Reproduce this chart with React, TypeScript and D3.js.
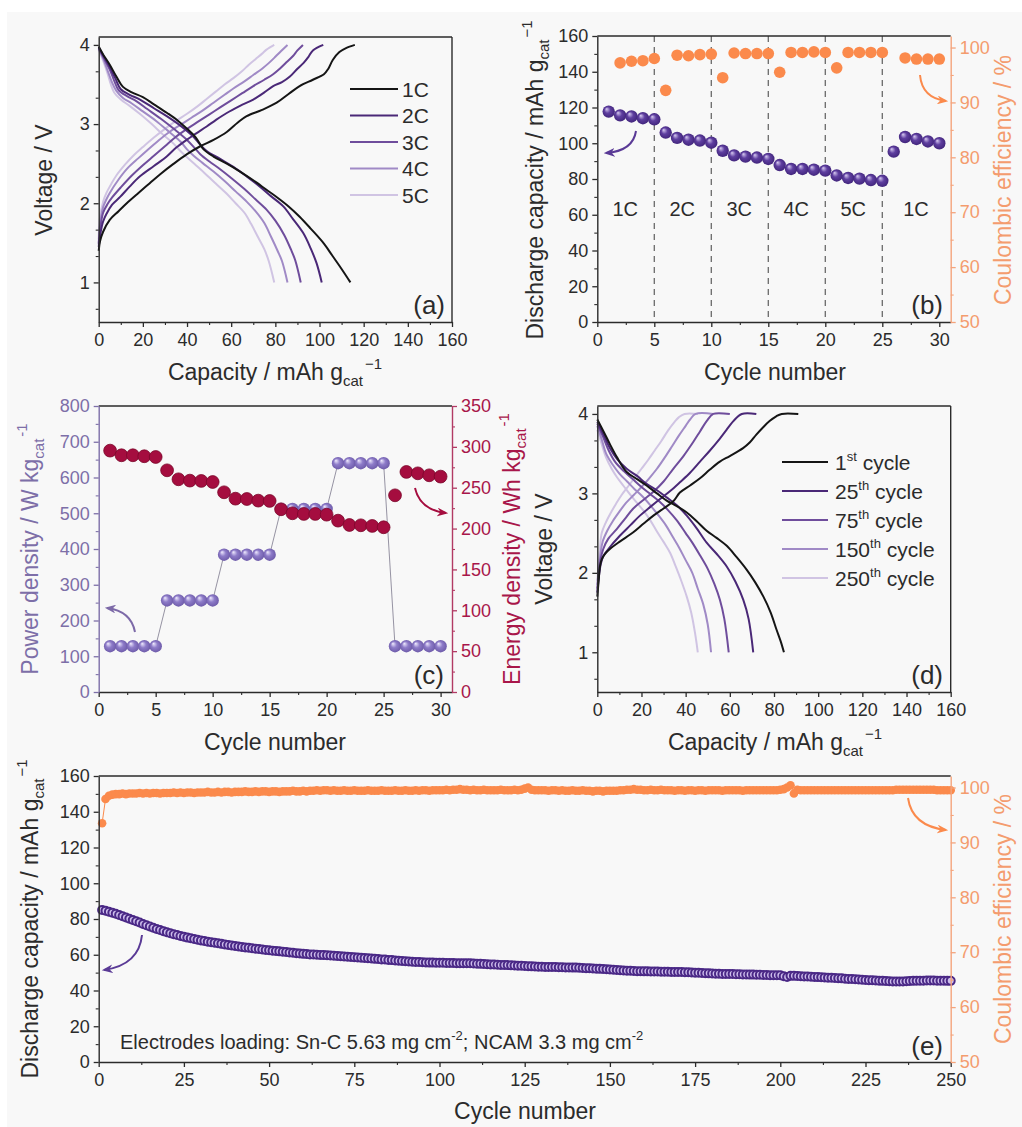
import React, { useEffect, useRef } from 'react';
import * as d3 from 'd3';

const FONT = "'Liberation Sans', Arial, Helvetica, sans-serif";
const INK = '#2b2b2b';
const ORANGE = '#fb8a4c';
const ORANGE_AXIS = '#f4a47c';
const ORANGE_TEXT = '#f49c6e';
const WINE = '#a50d3f';
const WINE_AXIS = '#b23a64';
const WINE_TEXT = '#a8164a';
const LILAC_AXIS = '#7d6fa8';

type Pt = [number, number];

// ---------- (a) voltage profiles at different C-rates ----------
const rateLabels = ['1C', '2C', '3C', '4C', '5C'];
const profileColors = ['#151515', '#4a2877', '#6f4d9c', '#a08ac6', '#d0c4e3'];

const charge1C: Pt[] = [[0,1.40],[0.6,1.52],[2,1.64],[5,1.79],[9,1.9],[12.7,2.0],[18,2.13],[23,2.25],[28,2.37],[34,2.5],[40,2.62],[46,2.72],[52,2.8],[58,2.9],[63,3.02],[67,3.1],[74,3.18],[80.6,3.27],[86,3.38],[91,3.48],[97,3.56],[102,3.63],[104,3.7],[106,3.81],[109,3.91],[112,3.96],[116,4.0]];
const discharge1C: Pt[] = [[0,3.98],[2,3.88],[5,3.75],[8,3.6],[11,3.47],[15,3.4],[20,3.34],[25,3.25],[31,3.14],[36,3.04],[40,2.94],[44,2.83],[47.5,2.68],[52,2.59],[58,2.5],[64,2.4],[70,2.29],[76,2.17],[81,2.07],[86,1.96],[91,1.83],[96,1.68],[102,1.49],[106,1.33],[110,1.17],[114,1.0]];
const charge2C: Pt[] = [[0,1.45],[0.8,1.62],[2,1.77],[3.6,1.87],[6,1.98],[9.7,2.08],[14,2.21],[18.7,2.34],[25,2.47],[30.8,2.59],[35,2.7],[39.8,2.8],[44,2.88],[48.9,2.97],[53,3.05],[58,3.14],[64,3.23],[70,3.31],[75,3.4],[79,3.48],[83,3.53],[86.6,3.6],[90,3.7],[92.7,3.77],[95,3.85],[97,3.93],[101.7,4.0]];
const discharge2C: Pt[] = [[0,3.97],[2,3.87],[5,3.72],[7.5,3.58],[10,3.44],[14,3.37],[18.7,3.31],[25,3.2],[30.8,3.1],[37,2.98],[42.9,2.84],[46,2.74],[48.9,2.66],[55,2.56],[61,2.46],[67,2.34],[73,2.21],[78,2.09],[83.6,1.96],[88,1.8],[92.7,1.62],[96,1.43],[98.7,1.24],[101,1.0]];
const charge3C: Pt[] = [[0,1.48],[0.8,1.7],[2,1.88],[4,1.99],[6,2.07],[10,2.2],[15,2.35],[20,2.48],[25,2.6],[30,2.72],[35,2.84],[40,2.94],[45,3.03],[50,3.12],[55,3.21],[60,3.3],[65,3.39],[70,3.48],[75,3.56],[79,3.63],[82,3.7],[85,3.78],[88,3.86],[90,3.93],[92.5,4.0]];
const discharge3C: Pt[] = [[0,3.96],[2,3.85],[5,3.69],[7,3.55],[9,3.43],[13,3.35],[17,3.29],[22,3.19],[28,3.07],[34,2.94],[40,2.8],[44,2.68],[46,2.62],[50,2.53],[55,2.43],[60,2.32],[66,2.18],[71,2.05],[76,1.92],[80,1.78],[84,1.6],[87,1.42],[89,1.28],[91.5,1.0]];
const charge4C: Pt[] = [[0,1.5],[0.7,1.75],[2,1.95],[3.5,2.05],[5,2.13],[9,2.3],[13,2.44],[18,2.57],[22,2.67],[27,2.79],[32,2.9],[37,2.99],[42,3.08],[47,3.17],[52,3.27],[57,3.37],[61,3.45],[66,3.54],[70,3.62],[74,3.7],[77,3.77],[80,3.85],[82.5,3.92],[85.5,4.0]];
const discharge4C: Pt[] = [[0,3.95],[2,3.83],[4,3.68],[6,3.53],[8,3.42],[11,3.33],[15,3.26],[20,3.16],[26,3.04],[32,2.9],[37,2.78],[40,2.68],[43,2.6],[47,2.51],[52,2.4],[57,2.28],[62,2.15],[67,2.02],[71,1.9],[75,1.75],[78,1.58],[81,1.4],[83,1.27],[85.5,1.0]];
const charge5C: Pt[] = [[0,1.55],[0.6,1.82],[2,2.02],[3.5,2.13],[5,2.21],[8,2.35],[12,2.49],[16,2.61],[20,2.71],[25,2.83],[30,2.94],[35,3.04],[40,3.13],[45,3.23],[49,3.32],[53,3.41],[57,3.5],[61,3.58],[65,3.67],[68,3.75],[71,3.82],[74,3.89],[76,3.94],[79.5,4.0]];
const discharge5C: Pt[] = [[0,3.94],[2,3.8],[4,3.64],[5.5,3.5],[7,3.4],[10,3.31],[14,3.23],[19,3.12],[24,3.0],[29,2.87],[34,2.75],[37,2.66],[40,2.58],[44,2.48],[48,2.38],[53,2.25],[58,2.12],[62,2.0],[66,1.88],[69,1.74],[72,1.58],[75,1.42],[77,1.27],[79.5,1.0]];
const rateCharge = [charge1C, charge2C, charge3C, charge4C, charge5C];
const rateDischarge = [discharge1C, discharge2C, discharge3C, discharge4C, discharge5C];

// ---------- (b) rate capability ----------
const cycles30 = [1,2,3,4,5,6,7,8,9,10,11,12,13,14,15,16,17,18,19,20,21,22,23,24,25,26,27,28,29,30];
const rateCapacity = [117.7,115.6,115.0,114.0,113.4,106.0,103.0,102.0,101.5,100.3,95.8,93.2,92.5,92.0,91.2,87.8,85.6,85.6,85.2,84.7,82.0,80.6,80.2,79.4,79.0,95.3,103.5,102.4,101.0,100.0];
const rateCE: (number | null)[] = [null,97.2,97.5,97.6,98.0,92.2,98.6,98.5,98.7,98.8,94.5,99.0,98.9,98.9,98.9,95.5,99.1,99.1,99.2,99.1,96.3,99.1,99.1,99.1,99.1,null,98.1,97.9,97.9,97.9];
const stepBounds = [0, 5, 10, 15, 20, 25, 31];
const stepLabels = ['1C', '2C', '3C', '4C', '5C', '1C'];

// ---------- (c) power / energy density ----------
const powerDensity = [128,128,128,128,128,256,256,256,256,256,384,384,384,384,384,512,512,512,512,512,640,640,640,640,640,128,128,128,128,128];
const energyDensity = [295.4,289.7,289.7,288.5,287.6,271.3,260.3,258.7,258.3,257.0,244.4,236.6,236.2,234.2,233.8,223.6,218.7,217.9,217.9,217.0,209.7,204.4,204.0,203.2,201.6,240.7,269.3,267.6,265.2,263.6];

// ---------- (d) voltage profiles upon cycling ----------
const cycleProfileLabels = ['1', '25', '75', '150', '250'];
const cycleProfileSuffix = ['st', 'th', 'th', 'th', 'th'];
const charge1st: Pt[] = [[0,1.7],[0.6,1.9],[1.2,2.08],[2,2.17],[3.5,2.24],[5.7,2.3],[10,2.39],[16.3,2.51],[21,2.62],[25.4,2.72],[30,2.81],[34.4,2.9],[37.4,3.01],[42,3.1],[46.5,3.19],[51,3.3],[55.5,3.4],[60,3.47],[66,3.57],[69,3.64],[72,3.74],[75,3.83],[78,3.91],[81,3.97],[83.5,4.0],[91,4.0]];
const discharge1st: Pt[] = [[0,3.93],[3,3.77],[5.7,3.62],[9,3.45],[13.3,3.27],[18,3.18],[22.3,3.1],[27,3.0],[31.4,2.91],[36,2.84],[40.5,2.76],[45,2.65],[49.5,2.53],[54,2.44],[58.6,2.34],[63,2.2],[67.6,2.04],[71.5,1.88],[75.2,1.7],[78.5,1.5],[81.2,1.28],[83,1.14],[84.5,1.0]];
const charge25th: Pt[] = [[0,1.75],[0.6,1.92],[1.5,2.1],[2.7,2.21],[5,2.3],[10.3,2.47],[15,2.6],[19.3,2.72],[24,2.83],[28.4,2.93],[33,3.03],[37.4,3.14],[42,3.26],[46.5,3.4],[51,3.54],[55.5,3.69],[58.5,3.8],[61.6,3.91],[65.4,4.0],[72,4.0]];
const discharge25th: Pt[] = [[0,3.9],[3,3.73],[5.7,3.57],[9,3.43],[13.3,3.31],[18,3.22],[22.3,3.12],[27,3.04],[31.4,2.95],[36,2.85],[40.5,2.72],[45,2.56],[49.5,2.38],[54,2.24],[58.6,2.08],[62.5,1.89],[66.1,1.66],[68.5,1.42],[70.6,1.0]];
const charge75th: Pt[] = [[0,1.8],[0.6,1.96],[1.5,2.17],[2.7,2.3],[5,2.43],[8.8,2.55],[12.5,2.68],[16.3,2.81],[21,2.92],[25.4,3.02],[30,3.15],[34.4,3.31],[39,3.47],[43.5,3.65],[46.5,3.78],[49.5,3.91],[52.5,4.0],[60,4.0]];
const discharge75th: Pt[] = [[0,3.88],[2.5,3.72],[5,3.55],[8,3.4],[12,3.28],[16,3.18],[20,3.08],[24,2.99],[28,2.9],[32,2.79],[36,2.66],[40,2.5],[43,2.38],[46.5,2.22],[50,2.05],[53,1.86],[55.5,1.66],[57.5,1.42],[59.5,1.0]];
const charge150th: Pt[] = [[0,1.85],[0.6,2.02],[1.5,2.25],[2.5,2.4],[4.5,2.53],[7,2.65],[10,2.77],[13,2.88],[16.5,2.98],[20,3.08],[23.5,3.19],[27,3.31],[30.5,3.45],[34,3.6],[37,3.73],[40,3.85],[42,3.93],[44.5,4.0],[52.5,4.0]];
const discharge150th: Pt[] = [[0,3.85],[2,3.68],[4,3.5],[7,3.36],[10,3.25],[13.5,3.15],[17,3.05],[20.5,2.96],[24,2.85],[27.5,2.73],[31,2.6],[34,2.46],[37,2.32],[40,2.16],[43,2.0],[45.5,1.8],[48,1.6],[50,1.35],[51.5,1.0]];
const charge250th: Pt[] = [[0,1.9],[0.6,2.1],[1.2,2.3],[2,2.5],[3.8,2.63],[6,2.75],[8.5,2.87],[11,2.98],[14,3.09],[17,3.2],[20,3.31],[23,3.42],[26,3.54],[29,3.66],[32,3.79],[35,3.9],[37,3.96],[39.5,4.0],[45.5,4.0]];
const discharge250th: Pt[] = [[0,3.8],[2,3.62],[4,3.45],[6.5,3.31],[9,3.2],[12,3.09],[15,2.98],[18,2.88],[21,2.78],[24,2.66],[27,2.52],[30,2.39],[33,2.25],[35.5,2.08],[38,1.9],[40.5,1.7],[42.5,1.5],[44.2,1.25],[45.5,1.0]];
const cycleCharge = [charge1st, charge25th, charge75th, charge150th, charge250th];
const cycleDischarge = [discharge1st, discharge25th, discharge75th, discharge150th, discharge250th];

// ---------- (e) long-term cycling, 250 cycles ----------
const longCapacity = [
  85.0,84.6,84.1,83.5,82.9,82.2,81.5,80.8,80.1,79.4,
  78.7,78.0,77.2,76.5,75.8,75.1,74.4,73.8,73.2,72.6,
  72.0,71.5,71.0,70.5,70.1,69.6,69.2,68.8,68.4,68.0,
  67.7,67.3,67.0,66.7,66.4,66.1,65.8,65.5,65.2,64.9,
  64.6,64.4,64.1,63.9,63.6,63.4,63.2,62.9,62.7,62.5,
  62.3,62.1,61.9,61.7,61.5,61.3,61.1,60.9,60.7,60.5,
  60.4,60.2,60.1,60.0,59.9,59.8,59.7,59.6,59.4,59.3,
  59.2,59.0,58.9,58.8,58.6,58.5,58.3,58.2,58.0,57.9,
  57.7,57.6,57.4,57.3,57.1,57.0,56.8,56.7,56.5,56.4,
  56.2,56.1,56.0,55.9,55.8,55.7,55.6,55.6,55.5,55.5,
  55.5,55.4,55.4,55.4,55.3,55.3,55.3,55.2,55.2,55.1,
  55.0,54.9,54.8,54.7,54.6,54.5,54.4,54.3,54.3,54.2,
  54.1,54.0,53.9,53.8,53.7,53.6,53.5,53.4,53.3,53.3,
  53.2,53.2,53.1,53.1,53.0,53.0,52.9,52.9,52.8,52.8,
  52.7,52.6,52.5,52.4,52.3,52.2,52.1,52.0,51.9,51.8,
  51.6,51.5,51.3,51.2,51.1,51.0,50.9,50.8,50.8,50.7,
  50.7,50.6,50.6,50.6,50.5,50.5,50.5,50.4,50.4,50.3,
  50.3,50.2,50.2,50.1,50.0,49.9,49.8,49.7,49.6,49.5,
  49.4,49.4,49.3,49.3,49.2,49.2,49.1,49.1,49.0,49.0,
  48.9,48.9,48.8,48.8,48.7,48.7,48.6,48.6,48.5,48.5,
  48.0,47.6,48.2,48.2,48.1,48.0,47.9,47.8,47.7,47.6,
  47.5,47.4,47.3,47.2,47.1,47.0,46.9,46.8,46.6,46.5,
  46.4,46.3,46.2,46.0,45.9,45.8,45.7,45.6,45.5,45.4,
  45.3,45.2,45.1,45.0,45.0,45.1,45.2,45.3,45.4,45.5,
  45.5,45.5,45.6,45.6,45.6,45.5,45.5,45.5,45.4,45.4,
];
const longCE = [
  93.5,97.9,98.5,98.7,98.8,98.8,98.9,98.8,98.9,98.9,
  98.9,99.0,98.9,99.0,98.9,99.0,99.0,98.9,99.0,99.0,
  99.0,99.1,99.0,99.1,99.0,99.1,99.1,99.0,99.1,99.1,
  99.1,99.2,99.1,99.1,99.2,99.1,99.2,99.2,99.1,99.2,
  99.2,99.2,99.3,99.2,99.2,99.3,99.2,99.3,99.3,99.2,
  99.3,99.3,99.2,99.3,99.3,99.3,99.4,99.3,99.3,99.4,
  99.3,99.4,99.4,99.5,99.4,99.5,99.5,99.4,99.5,99.4,
  99.4,99.5,99.4,99.4,99.5,99.4,99.4,99.4,99.5,99.4,
  99.4,99.4,99.5,99.4,99.4,99.4,99.5,99.4,99.4,99.5,
  99.4,99.4,99.5,99.4,99.5,99.5,99.4,99.5,99.5,99.5,
  99.5,99.6,99.5,99.6,99.6,99.7,99.6,99.6,99.5,99.6,
  99.5,99.5,99.6,99.5,99.5,99.5,99.5,99.6,99.5,99.5,
  99.5,99.6,99.5,99.6,99.8,100.0,99.6,99.5,99.5,99.5,
  99.5,99.4,99.5,99.5,99.4,99.5,99.4,99.4,99.5,99.4,
  99.4,99.5,99.4,99.4,99.3,99.4,99.4,99.3,99.4,99.4,
  99.4,99.4,99.5,99.5,99.6,99.6,99.7,99.6,99.6,99.5,
  99.5,99.6,99.5,99.5,99.6,99.5,99.5,99.5,99.4,99.5,
  99.5,99.4,99.5,99.5,99.4,99.5,99.5,99.4,99.5,99.5,
  99.5,99.5,99.4,99.5,99.5,99.5,99.5,99.5,99.4,99.5,
  99.5,99.5,99.5,99.5,99.5,99.5,99.5,99.5,99.5,99.6,
  99.7,100.0,100.4,98.9,99.6,99.5,99.5,99.5,99.5,99.5,
  99.5,99.5,99.5,99.5,99.5,99.5,99.5,99.5,99.5,99.5,
  99.5,99.5,99.5,99.5,99.5,99.5,99.5,99.5,99.5,99.5,
  99.5,99.5,99.5,99.6,99.6,99.6,99.6,99.6,99.6,99.6,
  99.6,99.6,99.6,99.6,99.6,99.5,99.5,99.5,99.5,99.5,
];

// ---------- tick values ----------
const voltMajor = [1, 2, 3, 4];
const voltMinor = [2 / 3, 4 / 3, 5 / 3, 7 / 3, 8 / 3, 10 / 3, 11 / 3];
const capXMajor = [0, 20, 40, 60, 80, 100, 120, 140, 160];
const capXMinor = [10, 30, 50, 70, 90, 110, 130, 150];
const cyc30Major = [0, 5, 10, 15, 20, 25, 30];
const cyc30Minor = [2.5, 7.5, 12.5, 17.5, 22.5, 27.5];
const capYMajor = [0, 20, 40, 60, 80, 100, 120, 140, 160];
const capYMinor = [10, 30, 50, 70, 90, 110, 130, 150];
const ceMajor = [50, 60, 70, 80, 90, 100];
const ceMinor = [55, 65, 75, 85, 95];
const powerMajor = [0, 100, 200, 300, 400, 500, 600, 700, 800];
const powerMinor = [50, 150, 250, 350, 450, 550, 650, 750];
const energyMajor = [0, 50, 100, 150, 200, 250, 300, 350];
const energyMinor = [25, 75, 125, 175, 225, 275, 325];
const cyc250Major = [0, 25, 50, 75, 100, 125, 150, 175, 200, 225, 250];
const cyc250Minor = [12.5, 37.5, 62.5, 87.5, 112.5, 137.5, 162.5, 187.5, 212.5, 237.5];

type Sel = d3.Selection<any, any, any, any>;
type Side = 'bottom' | 'left' | 'right';

function drawAxis(root: Sel, scale: d3.ScaleLinear<number, number>, side: Side, pos: number,
  major: number[], minor: number[], o: { line?: string; text?: string } = {}) {
  const make = side === 'bottom' ? d3.axisBottom : side === 'left' ? d3.axisLeft : d3.axisRight;
  const line = o.line ?? INK;
  const tr = side === 'bottom' ? `translate(0,${pos})` : `translate(${pos},0)`;
  const gMin = root.append('g').attr('transform', tr)
    .call(make(scale).tickValues(minor).tickSize(3).tickSizeOuter(0).tickFormat(() => ''));
  gMin.select('.domain').remove();
  gMin.selectAll('line').attr('stroke', line).attr('stroke-width', 1.1);
  const g = root.append('g').attr('transform', tr)
    .call(make(scale).tickValues(major).tickSize(5).tickSizeOuter(0)
      .tickPadding(side === 'bottom' ? 6 : 4).tickFormat((d: any) => String(d)));
  g.select('.domain').attr('stroke', line).attr('stroke-width', 1.4);
  g.selectAll('line').attr('stroke', line).attr('stroke-width', 1.3);
  g.selectAll('text').attr('fill', o.text ?? INK).attr('font-size', 18).attr('font-family', FONT);
}

function frame(root: Sel, x0: number, x1: number, y0: number, y1: number, right = true) {
  root.append('line').attr('x1', x0).attr('x2', x1).attr('y1', y0).attr('y2', y0)
    .attr('stroke', INK).attr('stroke-width', 1.4);
  if (right) root.append('line').attr('x1', x1).attr('x2', x1).attr('y1', y0).attr('y2', y1)
    .attr('stroke', INK).attr('stroke-width', 1.4);
}

// axis title with "g_cat^-1"-style unit
function unitTitle(root: Sel, x: number, y: number, rot: number, main: string,
  sub: string | null, sup: string | null, color: string) {
  const t = root.append('text').attr('transform', `translate(${x},${y}) rotate(${rot})`)
    .attr('text-anchor', 'middle').attr('font-family', FONT).attr('font-size', 23)
    .attr('fill', color);
  t.append('tspan').text(main);
  if (sub) t.append('tspan').attr('font-size', 15).attr('dy', 6).text(sub);
  if (sup) t.append('tspan').attr('font-size', 15).attr('dx', 2).attr('dy', sub ? -17 : -10).text(sup);
}

function plainText(root: Sel, x: number, y: number, s: string, size: number, anchor = 'start', color = INK) {
  return root.append('text').attr('x', x).attr('y', y).attr('font-family', FONT)
    .attr('font-size', size).attr('fill', color).attr('text-anchor', anchor).text(s);
}

function arrow(root: Sel, d: string, color: string, id: string) {
  root.append('path').attr('d', d).attr('fill', 'none').attr('stroke', color)
    .attr('stroke-width', 2).attr('marker-end', `url(#${id})`);
}

export default function App() {
  const ref = useRef<SVGSVGElement>(null);

  useEffect(() => {
    const svg = d3.select(ref.current);
    svg.selectAll('*').remove();

    svg.append('rect').attr('width', 1022).attr('height', 1127).attr('fill', '#ffffff');
    svg.append('rect').attr('x', 7).attr('y', 12).attr('width', 1015).attr('height', 1115).attr('fill', '#f8f8f8');

    const defs = svg.append('defs');
    const sphere = (id: string, light: string, mid: string, dark: string) => {
      const g = defs.append('radialGradient').attr('id', id)
        .attr('cx', '50%').attr('cy', '50%').attr('r', '55%').attr('fx', '32%').attr('fy', '28%');
      g.append('stop').attr('offset', '0%').attr('stop-color', light);
      g.append('stop').attr('offset', '45%').attr('stop-color', mid);
      g.append('stop').attr('offset', '100%').attr('stop-color', dark);
    };
    sphere('sphDark', '#d9ccf2', '#5f3fa0', '#3e2278');
    sphere('sphLight', '#f1ecff', '#8e7cc9', '#6a57a6');
    const marker = (id: string, color: string) => {
      defs.append('marker').attr('id', id).attr('viewBox', '0 0 10 8').attr('refX', 8).attr('refY', 4)
        .attr('markerWidth', 11).attr('markerHeight', 9).attr('markerUnits', 'userSpaceOnUse')
        .attr('orient', 'auto')
        .append('path').attr('d', 'M0,0 L10,4 L0,8 L3,4 Z').attr('fill', color);
    };
    marker('arPurple', '#5a3a96');
    marker('arOrange', ORANGE);
    marker('arLilac', '#7d6aa8');
    marker('arWine', WINE);

    const curve = d3.curveCatmullRom.alpha(0.5);

    // ===== (a) =====
    {
      const g = svg.append('g');
      const x = d3.scaleLinear([0, 160], [98.7, 452]);
      const y = d3.scaleLinear([0.5, 4.1], [322, 37]);
      const line = d3.line<Pt>().x(d => x(d[0])).y(d => y(d[1])).curve(curve);
      for (let i = rateLabels.length - 1; i >= 0; i--) {
        [rateCharge[i], rateDischarge[i]].forEach(s => {
          g.append('path').attr('d', line(s)!).attr('fill', 'none')
            .attr('stroke', profileColors[i]).attr('stroke-width', 2);
        });
      }
      frame(g, 98.7, 452, 37, 322);
      drawAxis(g, x, 'bottom', 322, capXMajor, capXMinor);
      drawAxis(g, y, 'left', 98.7, voltMajor, voltMinor);
      rateLabels.forEach((lab, i) => {
        const yy = 89 + i * 26.5;
        g.append('line').attr('x1', 350).attr('x2', 398).attr('y1', yy).attr('y2', yy)
          .attr('stroke', profileColors[i]).attr('stroke-width', 2.2);
        plainText(g, 402, yy + 7.5, lab, 21);
      });
      plainText(g, 445, 314, '(a)', 26, 'end');
      unitTitle(g, 52, 180, -90, 'Voltage / V', null, null, INK);
      unitTitle(g, 275, 380, 0, 'Capacity / mAh g', 'cat', '\u22121', INK);
    }

    // ===== (b) =====
    {
      const g = svg.append('g');
      const x = d3.scaleLinear([0, 31], [597.3, 950.7]);
      const y = d3.scaleLinear([0, 160], [322, 36]);
      const yr = d3.scaleLinear([50, 102.1], [322, 36]);
      stepBounds.slice(1, -1).forEach(b => {
        g.append('line').attr('x1', x(b)).attr('x2', x(b)).attr('y1', 36).attr('y2', 322)
          .attr('stroke', '#6a6a6a').attr('stroke-width', 1.3).attr('stroke-dasharray', '6,5');
      });
      stepLabels.forEach((lab, i) => {
        plainText(g, x((stepBounds[i] + stepBounds[i + 1]) / 2) - 0.5, y(63) + 7, lab, 20, 'middle');
      });
      cycles30.forEach((c, i) => {
        const v = rateCE[i];
        if (v !== null) g.append('circle').attr('cx', x(c)).attr('cy', yr(v)).attr('r', 5.8).attr('fill', ORANGE);
      });
      cycles30.forEach((c, i) => {
        g.append('circle').attr('cx', x(c)).attr('cy', y(rateCapacity[i])).attr('r', 6.2).attr('fill', 'url(#sphDark)');
      });
      frame(g, 597.3, 950.7, 36, 322, false);
      drawAxis(g, x, 'bottom', 322, cyc30Major, cyc30Minor);
      drawAxis(g, y, 'left', 597.3, capYMajor, capYMinor);
      drawAxis(g, yr, 'right', 950.7, ceMajor, ceMinor, { line: ORANGE_AXIS, text: ORANGE_TEXT });
      arrow(g, 'M636,131 Q633,151 606,153', '#5a3a96', 'arPurple');
      arrow(g, 'M920,75 Q922,98 946,101', ORANGE, 'arOrange');
      plainText(g, 943, 314, '(b)', 26, 'end');
      unitTitle(g, 543, 180, -90, 'Discharge capacity / mAh g', 'cat', '\u22121', INK);
      unitTitle(g, 1011, 180, -90, 'Coulombic efficiency / %', null, null, ORANGE_TEXT);
      unitTitle(g, 775, 380, 0, 'Cycle number', null, null, INK);
    }

    // ===== (c) =====
    {
      const g = svg.append('g');
      const x = d3.scaleLinear([0, 31], [98.7, 452]);
      const y = d3.scaleLinear([0, 800], [692, 406]);
      const yr = d3.scaleLinear([0, 350], [692, 406]);
      const pLine = d3.line<number>().x((_, i) => x(cycles30[i])).y(d => y(d));
      g.append('path').attr('d', pLine(powerDensity)!).attr('fill', 'none')
        .attr('stroke', '#8a8798').attr('stroke-width', 0.9);
      cycles30.forEach((c, i) => {
        g.append('circle').attr('cx', x(c)).attr('cy', y(powerDensity[i])).attr('r', 6.2).attr('fill', 'url(#sphLight)');
      });
      cycles30.forEach((c, i) => {
        g.append('circle').attr('cx', x(c)).attr('cy', yr(energyDensity[i])).attr('r', 6.4)
          .attr('fill', WINE).attr('stroke', '#7a0629').attr('stroke-width', 0.8);
      });
      frame(g, 98.7, 452, 406, 692, false);
      drawAxis(g, x, 'bottom', 692, cyc30Major, cyc30Minor);
      drawAxis(g, y, 'left', 98.7, powerMajor, powerMinor, { line: LILAC_AXIS, text: LILAC_AXIS });
      drawAxis(g, yr, 'right', 452, energyMajor, energyMinor, { line: WINE_AXIS, text: WINE_TEXT });
      arrow(g, 'M135,632 Q131,611 107,608', '#7d6aa8', 'arLilac');
      arrow(g, 'M415,488 Q420,510 446,513', WINE, 'arWine');
      plainText(g, 444, 684, '(c)', 26, 'end');
      unitTitle(g, 38, 549, -90, 'Power density / W kg', 'cat', '-1', LILAC_AXIS);
      unitTitle(g, 520, 549, -90, 'Energy density / Wh kg', 'cat', '-1', WINE_TEXT);
      unitTitle(g, 275, 750, 0, 'Cycle number', null, null, INK);
    }

    // ===== (d) =====
    {
      const g = svg.append('g');
      const x = d3.scaleLinear([0, 160], [597.3, 950.7]);
      const y = d3.scaleLinear([0.5, 4.1], [692, 406]);
      const line = d3.line<Pt>().x(d => x(d[0])).y(d => y(d[1])).curve(curve);
      for (let i = cycleProfileLabels.length - 1; i >= 0; i--) {
        [cycleCharge[i], cycleDischarge[i]].forEach(s => {
          g.append('path').attr('d', line(s)!).attr('fill', 'none')
            .attr('stroke', profileColors[i]).attr('stroke-width', 2);
        });
      }
      frame(g, 597.3, 950.7, 406, 692);
      drawAxis(g, x, 'bottom', 692, capXMajor, capXMinor);
      drawAxis(g, y, 'left', 597.3, voltMajor, voltMinor);
      cycleProfileLabels.forEach((lab, i) => {
        const yy = 462 + i * 29;
        g.append('line').attr('x1', 782).attr('x2', 828).attr('y1', yy).attr('y2', yy)
          .attr('stroke', profileColors[i]).attr('stroke-width', 2.2);
        const t = g.append('text').attr('x', 835).attr('y', yy + 7.5).attr('font-family', FONT)
          .attr('font-size', 21).attr('fill', INK);
        t.append('tspan').text(lab);
        t.append('tspan').attr('font-size', 13).attr('dy', -9).text(cycleProfileSuffix[i]);
        t.append('tspan').attr('dy', 9).text(' cycle');
      });
      plainText(g, 943, 684, '(d)', 26, 'end');
      unitTitle(g, 552, 549, -90, 'Voltage / V', null, null, INK);
      unitTitle(g, 775, 750, 0, 'Capacity / mAh g', 'cat', '\u22121', INK);
    }

    // ===== (e) =====
    {
      const g = svg.append('g');
      const x = d3.scaleLinear([0, 250], [98.7, 950.7]);
      const y = d3.scaleLinear([0, 160], [1062, 776]);
      const yr = d3.scaleLinear([50, 102.1], [1062, 776]);
      const ceLine = d3.line<number>().x((_, i) => x(i + 1)).y(d => yr(d));
      g.append('path').attr('d', ceLine(longCE)!).attr('fill', 'none').attr('stroke', ORANGE).attr('stroke-width', 1);
      longCE.forEach((v, i) => {
        g.append('circle').attr('cx', x(i + 1)).attr('cy', yr(v)).attr('r', 4.3).attr('fill', ORANGE);
      });
      longCapacity.forEach((v, i) => {
        g.append('circle').attr('cx', x(i + 1)).attr('cy', y(v)).attr('r', 4)
          .attr('fill', '#cdbdec').attr('stroke', '#4a2886').attr('stroke-width', 2);
      });
      frame(g, 98.7, 950.7, 776, 1062, false);
      drawAxis(g, x, 'bottom', 1062, cyc250Major, cyc250Minor);
      drawAxis(g, y, 'left', 98.7, capYMajor, capYMinor);
      drawAxis(g, yr, 'right', 950.7, ceMajor, ceMinor, { line: ORANGE_AXIS, text: ORANGE_TEXT });
      arrow(g, 'M142,935 Q139,965 104,970', '#5a3a96', 'arPurple');
      arrow(g, 'M908,798 Q912,826 946,830', ORANGE, 'arOrange');
      const note = g.append('text').attr('x', 120).attr('y', 1049).attr('font-family', FONT)
        .attr('font-size', 20).attr('fill', INK);
      note.append('tspan').text('Electrodes loading: Sn-C 5.63 mg cm');
      note.append('tspan').attr('font-size', 13).attr('dy', -9).text('-2');
      note.append('tspan').attr('dy', 9).text('; NCAM 3.3 mg cm');
      note.append('tspan').attr('font-size', 13).attr('dy', -9).text('-2');
      plainText(g, 943, 1055, '(e)', 26, 'end');
      unitTitle(g, 38, 919, -90, 'Discharge capacity / mAh g', 'cat', '\u22121', INK);
      unitTitle(g, 1011, 919, -90, 'Coulombic efficiency / %', null, null, ORANGE_TEXT);
      unitTitle(g, 525, 1119, 0, 'Cycle number', null, null, INK);
    }
  }, []);

  return (
    <svg ref={ref} width={1022} height={1127}
      style={{ position: 'absolute', left: 0, top: 0, display: 'block' }} />
  );
}
